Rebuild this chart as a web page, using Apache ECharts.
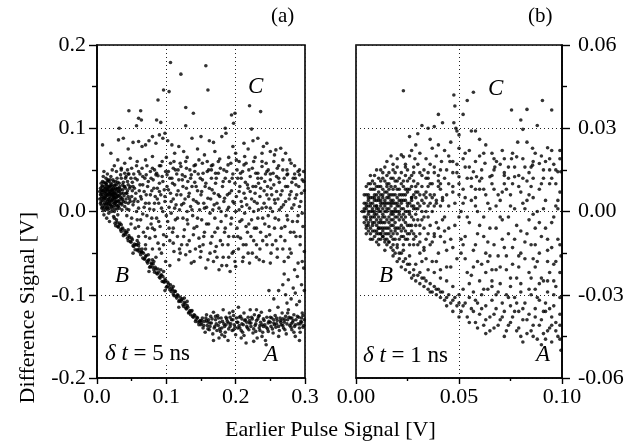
<!DOCTYPE html>
<html><head><meta charset="utf-8">
<script src="https://cdn.jsdelivr.net/npm/echarts@6/dist/echarts.min.js"></script>
<style>html,body{margin:0;padding:0;background:#fff}#c{width:638px;height:445px}</style>
</head><body><div id="c"></div>
<script>
// ---------- axis tick labels ----------
var leftXTicks = ['0.0','0.1','0.2','0.3'];
var leftYTicks = ['-0.2','-0.1','0.0','0.1','0.2'];
var rightXTicks = ['0.00','0.05','0.10'];
var rightYTicks = ['-0.06','-0.03','0.00','0.03','0.06'];

// ---------- panel (a): dt = 5 ns ----------
var aOutliers = [[0.106,0.179],[0.157,0.175],[0.121,0.165],[0.096,0.146],[0.104,0.144],[0.160,0.146],[0.088,0.134],[0.128,0.125],[0.139,0.118],[0.220,0.127],[0.236,0.120],[0.046,0.121],[0.063,0.121],[0.060,0.112],[0.064,0.110],[0.057,0.103],[0.086,0.110],[0.092,0.107],[0.199,0.118],[0.194,0.116],[0.197,0.106],[0.128,0.103],[0.032,0.100],[0.185,0.100],[0.223,0.099]];
var aUpper = [[0.008,0.080],[0.038,0.088],[0.031,0.086],[0.045,0.075],[0.052,0.083],[0.060,0.084],[0.065,0.078],[0.070,0.080],[0.075,0.085],[0.080,0.090],[0.085,0.082],[0.090,0.092],[0.095,0.088],[0.098,0.094],[0.102,0.085],[0.108,0.080],[0.112,0.070],[0.118,0.078],[0.125,0.072],[0.130,0.065],[0.137,0.088],[0.150,0.090],[0.155,0.068],[0.162,0.085],[0.168,0.083],[0.175,0.060],[0.180,0.090],[0.186,0.094],[0.196,0.078],[0.200,0.070],[0.205,0.060],[0.212,0.082],[0.218,0.075],[0.225,0.085],[0.232,0.088],[0.240,0.078],[0.245,0.082],[0.250,0.072],[0.258,0.074],[0.265,0.076],[0.272,0.070],[0.278,0.062],[0.285,0.055],[0.292,0.050],[0.298,0.048],[0.228,0.065],[0.238,0.060],[0.255,0.060],[0.215,0.058],[0.190,0.065],[0.145,0.075],[0.120,0.058],[0.100,0.065],[0.080,0.066],[0.070,0.062],[0.058,0.060],[0.048,0.064],[0.040,0.058],[0.030,0.062],[0.025,0.055],[0.020,0.070],[0.035,0.050],[0.090,0.055],[0.110,0.052],[0.140,0.055],[0.165,0.050],[0.170,0.072],[0.260,0.052],[0.275,0.045],[0.245,0.048]];
var aUpper2 = [[0.045,0.045],[0.050,0.052],[0.055,0.040],[0.060,0.048],[0.066,0.042],[0.072,0.055],[0.078,0.040],[0.083,0.050],[0.088,0.043],[0.094,0.060],[0.099,0.048],[0.105,0.040],[0.111,0.060],[0.117,0.050],[0.123,0.044],[0.129,0.052],[0.135,0.040],[0.141,0.048],[0.147,0.062],[0.153,0.046],[0.159,0.060],[0.165,0.055],[0.171,0.046],[0.177,0.063],[0.183,0.050],[0.189,0.056],[0.195,0.040],[0.201,0.062],[0.207,0.046],[0.213,0.066],[0.219,0.050],[0.226,0.060],[0.232,0.040],[0.238,0.070],[0.244,0.058],[0.250,0.045],[0.256,0.068],[0.262,0.055],[0.268,0.062],[0.274,0.050],[0.280,0.058],[0.286,0.040],[0.292,0.044]];
var aCluster = [[0.005,0.020],[0.006,0.012],[0.007,0.030],[0.008,0.005],[0.008,0.025],[0.009,0.015],[0.010,0.035],[0.010,0.008],[0.011,0.022],[0.012,0.028],[0.012,0.002],[0.013,0.016],[0.013,0.040],[0.014,0.010],[0.014,0.032],[0.015,0.020],[0.015,0.005],[0.016,0.026],[0.016,0.014],[0.017,0.036],[0.017,-0.002],[0.018,0.018],[0.018,0.030],[0.019,0.008],[0.019,0.024],[0.020,0.012],[0.020,0.042],[0.021,0.020],[0.021,0.000],[0.022,0.030],[0.022,0.015],[0.023,0.006],[0.023,0.026],[0.024,0.036],[0.024,0.018],[0.025,0.010],[0.025,0.022],[0.026,0.003],[0.026,0.032],[0.027,0.016],[0.028,0.024],[0.028,0.008],[0.029,0.040],[0.030,0.018],[0.030,0.028],[0.031,0.012],[0.032,0.004],[0.032,0.034],[0.033,0.020],[0.034,0.026],[0.035,0.010],[0.036,0.016],[0.037,0.032],[0.038,0.022],[0.040,0.006],[0.041,0.028],[0.042,0.015],[0.044,0.036],[0.006,0.026],[0.007,0.018],[0.009,0.042],[0.011,0.010],[0.012,0.034],[0.013,0.024],[0.014,0.004],[0.015,0.030],[0.016,0.008],[0.017,0.022],[0.018,0.012],[0.019,0.038],[0.020,0.027],[0.021,0.006],[0.022,0.020],[0.023,0.014],[0.024,0.028],[0.025,0.000],[0.026,0.020],[0.027,0.036],[0.028,0.012],[0.029,0.020],[0.030,0.006],[0.031,0.024],[0.033,0.014],[0.034,0.044],[0.036,0.002],[0.038,0.012],[0.039,0.030],[0.043,0.022],[0.045,0.010],[0.046,0.045],[0.048,0.030],[0.050,0.018],[0.010,0.048],[0.015,0.045],[0.022,0.050],[0.028,0.048],[0.035,0.052],[0.040,0.046],[0.006,0.008],[0.010,-0.004],[0.014,-0.008],[0.018,-0.012],[0.024,-0.006],[0.030,-0.004],[0.008,0.036],[0.012,0.018],[0.016,0.038],[0.020,0.034],[0.026,0.012],[0.032,0.028]];
var aCluster2 = [[0.005,0.010],[0.005,0.028],[0.006,0.016],[0.006,0.034],[0.007,0.004],[0.007,0.023],[0.008,0.013],[0.008,0.031],[0.009,0.020],[0.009,0.001],[0.010,0.027],[0.010,0.017],[0.011,0.030],[0.011,0.005],[0.012,0.013],[0.012,0.024],[0.013,0.008],[0.013,0.034],[0.014,0.019],[0.014,0.027],[0.015,0.012],[0.015,0.037],[0.016,0.002],[0.016,0.021],[0.017,0.029],[0.017,0.010],[0.018,0.024],[0.018,0.004],[0.019,0.016],[0.019,0.031],[0.020,0.008],[0.020,0.022],[0.021,0.013],[0.021,0.032],[0.022,0.025],[0.022,0.003],[0.023,0.018],[0.023,0.038],[0.024,0.010],[0.024,0.023],[0.025,0.031],[0.025,0.015],[0.026,0.026],[0.026,0.007],[0.027,0.021],[0.027,0.011],[0.028,0.032],[0.028,0.017],[0.029,0.003],[0.029,0.027],[0.030,0.013],[0.030,0.035],[0.031,0.019],[0.031,0.007],[0.032,0.024],[0.033,0.010],[0.033,0.030],[0.034,0.017],[0.035,0.022],[0.035,0.040],[0.036,0.008],[0.037,0.026],[0.037,0.014],[0.038,0.035],[0.039,0.019],[0.040,0.030],[0.041,0.011],[0.042,0.042],[0.043,0.003],[0.044,0.025],[0.045,0.032],[0.047,0.015],[0.049,0.040],[0.051,0.025],[0.053,0.012],[0.009,0.025],[0.011,0.016],[0.013,0.021],[0.015,0.026],[0.017,0.015],[0.019,0.020],[0.021,0.026],[0.023,0.022],[0.025,0.017],[0.027,0.028],[0.006,0.021],[0.004,0.015],[0.004,0.024]];
var aMiddle = [[0.041,0.040],[0.043,-0.005],[0.045,0.018],[0.047,0.028],[0.049,-0.015],[0.051,0.035],[0.052,0.008],[0.053,0.045],[0.055,-0.020],[0.056,0.022],[0.057,0.000],[0.058,0.038],[0.059,0.012],[0.060,-0.030],[0.054,0.028],[0.046,0.002],
[0.061,0.025],[0.062,0.045],[0.063,-0.010],[0.064,0.015],[0.066,0.032],[0.067,-0.025],[0.068,0.005],[0.069,0.040],[0.070,-0.040],[0.071,0.020],[0.072,-0.005],[0.073,0.030],[0.075,0.010],[0.076,-0.032],[0.077,0.048],[0.078,-0.015],[0.079,0.025],[0.065,-0.045],[0.074,-0.052],
[0.081,0.038],[0.082,0.002],[0.083,-0.022],[0.084,0.018],[0.085,0.044],[0.086,-0.008],[0.087,0.028],[0.088,-0.038],[0.089,0.010],[0.090,0.034],[0.091,-0.018],[0.092,0.020],[0.093,-0.050],[0.094,0.042],[0.095,0.000],[0.096,-0.028],[0.097,0.026],[0.098,0.012],[0.099,-0.060],[0.085,-0.055],[0.080,-0.045],
[0.101,0.030],[0.102,-0.012],[0.103,0.048],[0.104,0.005],[0.105,-0.035],[0.106,0.022],[0.107,-0.002],[0.108,0.040],[0.109,-0.025],[0.110,0.015],[0.111,-0.048],[0.112,0.032],[0.113,-0.010],[0.114,0.008],[0.115,0.045],[0.116,-0.030],[0.117,0.025],[0.118,-0.058],[0.119,0.002],[0.105,-0.065],
[0.121,0.020],[0.122,-0.040],[0.123,0.038],[0.124,-0.008],[0.125,0.010],[0.126,-0.022],[0.127,0.042],[0.128,-0.052],[0.129,0.028],[0.130,0.000],[0.131,-0.015],[0.132,0.018],[0.133,-0.035],[0.134,0.050],[0.135,0.006],[0.136,-0.062],[0.137,0.030],[0.138,-0.005],[0.139,-0.028],
[0.141,0.035],[0.142,-0.045],[0.143,0.012],[0.144,-0.018],[0.145,0.025],[0.146,0.045],[0.147,-0.032],[0.148,0.002],[0.149,-0.055],[0.150,0.020],[0.151,-0.010],[0.152,0.038],[0.153,-0.040],[0.154,0.010],[0.155,-0.025],[0.156,0.030],[0.157,-0.068],[0.158,0.005],[0.159,0.048],
[0.161,-0.015],[0.162,0.028],[0.163,-0.050],[0.164,0.015],[0.165,0.040],[0.166,-0.030],[0.167,0.002],[0.168,-0.060],[0.169,0.022],[0.170,-0.008],[0.171,0.034],[0.172,-0.042],[0.173,0.010],[0.174,-0.020],[0.175,0.046],[0.176,-0.070],[0.177,0.018],[0.178,-0.035],[0.179,0.000],
[0.181,0.030],[0.182,-0.055],[0.183,0.012],[0.184,-0.025],[0.185,0.040],[0.186,-0.005],[0.187,-0.065],[0.188,0.020],[0.189,-0.040],[0.190,0.005],[0.191,0.036],[0.192,-0.072],[0.193,-0.015],[0.194,0.025],[0.195,-0.050],[0.196,0.045],[0.197,-0.030],[0.198,0.010],[0.199,-0.060],
[0.201,0.018],[0.202,-0.020],[0.203,0.040],[0.204,-0.045],[0.205,0.002],[0.206,0.030],[0.207,-0.032],[0.208,0.012],[0.209,-0.010],[0.210,0.048],[0.211,-0.055],[0.212,0.022],[0.213,-0.002],[0.214,0.035],[0.215,-0.040],[0.216,0.008],[0.217,-0.025],[0.218,0.028],[0.219,-0.015],
[0.221,0.042],[0.222,-0.030],[0.223,0.015],[0.224,-0.050],[0.225,0.030],[0.226,0.000],[0.227,-0.020],[0.228,0.022],[0.229,0.046],[0.230,-0.040],[0.231,0.010],[0.232,-0.008],[0.233,0.034],[0.234,-0.058],[0.235,0.018],[0.236,-0.025],[0.237,0.040],[0.238,0.004],[0.239,-0.035],
[0.241,0.025],[0.242,-0.015],[0.243,0.045],[0.244,0.005],[0.245,-0.040],[0.246,0.030],[0.247,-0.005],[0.248,0.015],[0.249,-0.028],[0.250,0.038],[0.251,-0.050],[0.252,0.020],[0.253,0.000],[0.255,0.032],[0.256,-0.020],[0.257,0.010],[0.258,-0.035],[0.259,0.042],
[0.261,0.015],[0.262,-0.010],[0.263,0.035],[0.265,-0.030],[0.266,0.005],[0.267,0.025],[0.268,-0.045],[0.270,0.040],[0.271,-0.018],[0.272,0.012],[0.274,-0.005],[0.275,0.030],[0.276,-0.055],[0.278,0.020],[0.279,-0.025],
[0.281,0.035],[0.282,-0.012],[0.284,0.008],[0.285,0.045],[0.287,-0.030],[0.288,0.020],[0.290,-0.005],[0.291,0.030],[0.293,-0.040],[0.294,0.012],[0.296,0.038],[0.297,-0.018],[0.299,0.025]];
var aMiddle2 = [[0.042,0.022],[0.044,0.050],[0.048,0.012],[0.050,-0.008],[0.052,0.030],[0.055,0.015],[0.057,0.055],[0.058,-0.010],[0.060,0.004],[0.062,0.032],[0.063,0.018],[0.065,0.052],[0.066,-0.003],[0.068,0.024],[0.070,0.010],[0.071,0.044],[0.073,-0.020],[0.074,0.036],[0.076,0.003],[0.077,0.020],[0.079,-0.008],[0.080,0.052],[0.082,0.028],[0.083,0.010],[0.084,-0.030],[0.086,0.046],[0.087,0.015],[0.089,-0.012],[0.090,0.024],[0.092,0.055],[0.093,0.004],[0.095,0.036],[0.096,-0.040],[0.098,0.018],[0.100,-0.005],[0.101,0.044],[0.103,0.026],[0.104,-0.020],[0.106,0.058],[0.107,0.012],[0.109,0.034],[0.110,-0.038],[0.112,0.004],[0.113,0.050],[0.115,0.020],[0.116,-0.008],[0.118,0.038],[0.119,-0.045],[0.121,0.054],[0.122,0.008],[0.124,0.030],[0.125,-0.030],[0.127,0.015],[0.128,0.060],[0.130,-0.010],[0.131,0.036],[0.133,0.022],[0.134,-0.048],[0.136,0.044],[0.137,0.002],[0.139,0.014],[0.140,-0.020],[0.142,0.056],[0.143,0.030],[0.145,-0.008],[0.146,0.010],[0.148,-0.042],[0.149,0.040],[0.151,0.024],[0.152,0.058],[0.154,-0.030],[0.155,0.004],[0.157,0.034],[0.158,-0.015],[0.160,0.016],[0.161,0.050],[0.163,-0.002],[0.164,-0.038],[0.166,0.026],[0.167,0.056],[0.169,0.008],[0.170,-0.025],[0.172,0.040],[0.173,-0.055],[0.175,0.020],[0.176,0.004],[0.178,0.052],[0.179,-0.012],[0.181,-0.040],[0.182,0.036],[0.184,0.016],[0.185,-0.020],[0.187,0.048],[0.188,0.002],[0.190,-0.030],[0.191,0.022],[0.193,0.058],[0.194,-0.008],[0.196,0.012],[0.197,-0.048],[0.199,0.034],[0.200,0.000],[0.202,0.050],[0.203,-0.030],[0.205,0.024],[0.206,-0.012],[0.208,0.040],[0.209,0.006],[0.211,-0.040],[0.212,0.056],[0.214,0.016],[0.215,-0.018],[0.217,0.032],[0.218,-0.050],[0.220,0.004],[0.221,0.024],[0.223,-0.010],[0.224,0.052],[0.226,-0.035],[0.227,0.012],[0.229,0.030],[0.230,-0.020],[0.232,0.046],[0.233,0.002],[0.235,-0.045],[0.236,0.028],[0.238,0.054],[0.239,-0.008],[0.241,0.010],[0.242,0.036],[0.244,-0.030],[0.245,0.020],[0.247,0.050],[0.248,-0.018],[0.250,0.004],[0.251,0.028],[0.253,-0.040],[0.254,0.046],[0.256,0.014],[0.257,-0.008],[0.259,0.024],[0.260,-0.055],[0.262,0.040],[0.263,0.002],[0.265,0.020],[0.266,-0.020],[0.268,0.050],[0.269,0.008],[0.271,-0.035],[0.272,0.030],[0.274,0.044],[0.275,-0.010],[0.277,0.015],[0.278,-0.045],[0.280,0.024],[0.281,0.004],[0.283,0.040],[0.284,-0.025],[0.286,0.016],[0.287,0.032],[0.289,-0.012],[0.290,0.048],[0.292,0.006],[0.293,-0.030],[0.295,0.022],[0.296,-0.002],[0.298,0.036],[0.299,-0.048]];
var aLowerCloud = [[0.060,-0.018],[0.070,-0.030],[0.080,-0.020],[0.090,-0.045],[0.100,-0.030],[0.110,-0.020],[0.120,-0.050],[0.130,-0.040],[0.140,-0.060],[0.150,-0.048],[0.160,-0.058],[0.170,-0.048],[0.180,-0.065],[0.190,-0.055],[0.200,-0.066],[0.210,-0.060],[0.220,-0.062],[0.230,-0.055],[0.240,-0.060],[0.250,-0.062],[0.260,-0.045],[0.270,-0.060],[0.280,-0.050],[0.290,-0.062]];
var aBandB = [[0.025,-0.008],[0.027,-0.017],[0.029,-0.013],[0.031,-0.019],[0.033,-0.014],[0.035,-0.024],[0.036,-0.021],[0.038,-0.029],[0.040,-0.023],[0.041,-0.028],[0.043,-0.025],[0.045,-0.035],[0.047,-0.031],[0.048,-0.036],[0.050,-0.032],[0.052,-0.041],[0.054,-0.039],[0.055,-0.046],[0.057,-0.040],[0.059,-0.047],[0.060,-0.041],[0.062,-0.049],[0.064,-0.048],[0.066,-0.056],[0.067,-0.050],[0.069,-0.057],[0.071,-0.053],[0.073,-0.062],[0.074,-0.059],[0.076,-0.067],[0.078,-0.062],[0.080,-0.067],[0.081,-0.063],[0.083,-0.073],[0.085,-0.069],[0.087,-0.075],[0.088,-0.069],[0.090,-0.079],[0.092,-0.077],[0.094,-0.084],[0.095,-0.078],[0.097,-0.085],[0.099,-0.083],[0.100,-0.091],[0.102,-0.085],[0.104,-0.091],[0.106,-0.088],[0.107,-0.096],[0.109,-0.094],[0.111,-0.101],[0.113,-0.096],[0.114,-0.102],[0.116,-0.100],[0.118,-0.108],[0.120,-0.103],[0.121,-0.108],[0.123,-0.105],[0.125,-0.114],[0.127,-0.111],[0.128,-0.116],[0.130,-0.113],[0.132,-0.122],[0.134,-0.119],[0.135,-0.124],[0.137,-0.119],[0.139,-0.127],[0.141,-0.125],[0.142,-0.132],[0.144,-0.127],[0.146,-0.133],[0.148,-0.132],[0.045,-0.022],[0.058,-0.035],[0.070,-0.045],[0.082,-0.060],[0.096,-0.072],[0.110,-0.090],[0.126,-0.104],[0.052,-0.050],[0.075,-0.072],[0.098,-0.095],[0.118,-0.115]];
var aBandB2 = [[0.026,-0.014],[0.028,-0.010],[0.030,-0.018],[0.032,-0.016],[0.034,-0.022],[0.037,-0.020],[0.039,-0.027],[0.042,-0.025],[0.044,-0.032],[0.046,-0.029],[0.049,-0.037],[0.051,-0.034],[0.053,-0.042],[0.056,-0.040],[0.058,-0.046],[0.061,-0.045],[0.063,-0.052],[0.065,-0.049],[0.068,-0.057],[0.070,-0.054],[0.072,-0.060],[0.075,-0.058],[0.077,-0.066],[0.079,-0.063],[0.082,-0.070],[0.084,-0.067],[0.086,-0.074],[0.089,-0.073],[0.091,-0.080],[0.093,-0.076],[0.096,-0.084],[0.098,-0.081],[0.101,-0.090],[0.103,-0.087],[0.105,-0.094],[0.108,-0.092],[0.110,-0.099],[0.112,-0.096],[0.115,-0.104],[0.117,-0.101],[0.119,-0.107],[0.122,-0.106],[0.124,-0.112],[0.126,-0.109],[0.129,-0.117],[0.131,-0.115],[0.133,-0.121],[0.136,-0.120],[0.138,-0.126],[0.140,-0.124],[0.143,-0.130],[0.145,-0.128],[0.147,-0.136],[0.149,-0.131],[0.151,-0.134],[0.035,-0.016],[0.060,-0.038],[0.080,-0.058],[0.092,-0.070],[0.130,-0.108]];
var aRegionA = [[0.150,-0.136],[0.152,-0.128],[0.153,-0.140],[0.155,-0.132],[0.156,-0.145],[0.158,-0.124],[0.159,-0.137],[0.161,-0.130],[0.162,-0.142],[0.164,-0.126],[0.165,-0.134],[0.167,-0.147],[0.168,-0.121],[0.170,-0.138],[0.171,-0.130],[0.173,-0.143],[0.174,-0.125],[0.176,-0.152],[0.177,-0.133],[0.179,-0.128],[0.180,-0.140],[0.182,-0.118],[0.183,-0.135],[0.185,-0.145],[0.186,-0.127],[0.188,-0.132],[0.189,-0.155],[0.191,-0.122],[0.192,-0.138],[0.194,-0.130],[0.195,-0.143],[0.197,-0.125],[0.198,-0.136],[0.200,-0.148],[0.201,-0.128],[0.203,-0.133],[0.204,-0.115],[0.206,-0.140],[0.207,-0.126],[0.209,-0.135],[0.210,-0.145],[0.212,-0.122],[0.213,-0.131],[0.215,-0.158],[0.216,-0.138],[0.218,-0.127],[0.219,-0.142],[0.221,-0.118],[0.222,-0.134],[0.224,-0.129],[0.225,-0.146],[0.227,-0.124],[0.228,-0.137],[0.230,-0.131],[0.231,-0.152],[0.233,-0.126],[0.234,-0.140],[0.236,-0.133],[0.237,-0.121],[0.239,-0.145],[0.240,-0.129],[0.242,-0.136],[0.243,-0.155],[0.245,-0.127],[0.246,-0.141],[0.248,-0.132],[0.249,-0.119],[0.251,-0.138],[0.252,-0.128],[0.254,-0.146],[0.255,-0.134],[0.257,-0.125],[0.258,-0.139],[0.260,-0.131],[0.261,-0.115],[0.263,-0.143],[0.264,-0.128],[0.266,-0.136],[0.267,-0.122],[0.269,-0.140],[0.270,-0.133],[0.272,-0.126],[0.273,-0.147],[0.275,-0.130],[0.276,-0.118],[0.278,-0.137],[0.279,-0.128],[0.281,-0.142],[0.282,-0.133],[0.284,-0.124],[0.285,-0.138],[0.287,-0.130],[0.288,-0.112],[0.290,-0.135],[0.291,-0.127],[0.293,-0.145],[0.294,-0.132],[0.296,-0.122],[0.297,-0.139],[0.299,-0.130],[0.160,-0.133],[0.175,-0.137],[0.190,-0.134],[0.205,-0.137],[0.220,-0.131],[0.235,-0.137],[0.250,-0.133],[0.265,-0.131],[0.280,-0.135],[0.295,-0.128],[0.184,-0.150],[0.226,-0.156],[0.244,-0.160],[0.208,-0.152],[0.292,-0.155],[0.168,-0.155]];
var aRegionA2 = [[0.151,-0.131],[0.154,-0.137],[0.157,-0.128],[0.160,-0.141],[0.163,-0.134],[0.166,-0.129],[0.169,-0.140],[0.172,-0.135],[0.175,-0.128],[0.178,-0.144],[0.181,-0.132],[0.184,-0.138],[0.187,-0.129],[0.190,-0.141],[0.193,-0.135],[0.196,-0.130],[0.199,-0.139],[0.202,-0.133],[0.205,-0.127],[0.208,-0.143],[0.211,-0.136],[0.214,-0.130],[0.217,-0.140],[0.220,-0.134],[0.223,-0.127],[0.226,-0.141],[0.229,-0.135],[0.232,-0.129],[0.235,-0.143],[0.238,-0.136],[0.241,-0.131],[0.244,-0.139],[0.247,-0.134],[0.250,-0.127],[0.253,-0.141],[0.256,-0.136],[0.259,-0.128],[0.262,-0.138],[0.265,-0.133],[0.268,-0.129],[0.271,-0.142],[0.274,-0.135],[0.277,-0.127],[0.280,-0.139],[0.283,-0.131],[0.286,-0.136],[0.289,-0.126],[0.292,-0.140],[0.295,-0.133],[0.298,-0.137],[0.158,-0.131],[0.171,-0.126],[0.186,-0.136],[0.197,-0.142],[0.209,-0.129],[0.222,-0.138],[0.234,-0.125],[0.247,-0.144],[0.259,-0.135],[0.271,-0.130],[0.284,-0.145],[0.297,-0.125],[0.163,-0.138],[0.177,-0.141],[0.192,-0.127],[0.203,-0.140],[0.216,-0.133],[0.229,-0.144],[0.240,-0.138],[0.255,-0.130],[0.268,-0.137],[0.281,-0.128],[0.293,-0.135],[0.180,-0.148],[0.212,-0.149],[0.238,-0.150],[0.262,-0.150],[0.286,-0.150],[0.196,-0.120],[0.230,-0.118],[0.275,-0.122]];
var aTail = [[0.262,-0.095],[0.268,-0.088],[0.272,-0.100],[0.276,-0.082],[0.280,-0.105],[0.283,-0.092],[0.286,-0.098],[0.289,-0.078],[0.292,-0.108],[0.295,-0.088],[0.298,-0.068],[0.299,-0.095],[0.274,-0.110],[0.285,-0.070],[0.270,-0.075],[0.255,-0.105],[0.248,-0.095],[0.296,-0.060]];

// ---------- panel (b): dt = 1 ns ----------
var bCluster = [[0.003,0.000],[0.004,0.003],[0.004,-0.002],[0.005,0.006],[0.005,-0.005],[0.005,0.001],[0.006,-0.001],[0.006,0.004],[0.006,-0.007],[0.007,0.002],[0.007,-0.003],[0.007,0.008],[0.008,0.000],[0.008,0.005],[0.008,-0.005],[0.009,0.002],[0.009,-0.002],[0.009,0.010],[0.010,-0.008],[0.010,0.004],[0.010,-0.001],[0.011,0.007],[0.011,0.001],[0.011,-0.004],[0.012,-0.010],[0.012,0.003],[0.012,0.009],[0.013,-0.002],[0.013,0.005],[0.013,-0.006],[0.014,0.000],[0.014,0.011],[0.014,-0.008],[0.015,0.003],[0.015,-0.003],[0.015,0.007],[0.016,-0.011],[0.016,0.001],[0.016,0.005],[0.017,-0.005],[0.017,0.009],[0.017,-0.001],[0.018,0.003],[0.018,-0.008],[0.018,0.012],[0.019,0.000],[0.019,-0.004],[0.019,0.006],[0.020,-0.012],[0.020,0.002],[0.020,0.008],[0.021,-0.006],[0.021,0.004],[0.022,-0.002],[0.022,0.010],[0.022,-0.009],[0.023,0.001],[0.023,0.006],[0.024,-0.004],[0.024,0.013],[0.025,-0.010],[0.025,0.003],[0.026,0.008],[0.026,-0.001],[0.027,-0.007],[0.027,0.005],[0.028,0.011],[0.028,-0.003],[0.029,0.001],[0.030,-0.012],[0.030,0.007],[0.004,0.006],[0.005,-0.003],[0.006,0.002],[0.007,-0.006],[0.007,0.005],[0.008,-0.002],[0.008,0.008],[0.009,-0.007],[0.009,0.004],[0.010,0.001],[0.010,0.009],[0.011,-0.006],[0.011,0.004],[0.012,-0.003],[0.012,0.006],[0.013,0.001],[0.013,0.012],[0.014,-0.004],[0.014,0.004],[0.015,-0.008],[0.015,0.010],[0.016,-0.002],[0.016,0.008],[0.017,0.002],[0.017,-0.009],[0.018,0.000],[0.018,0.006],[0.019,-0.007],[0.019,0.011],[0.020,-0.002],[0.020,0.005],[0.021,0.000],[0.021,-0.010],[0.022,0.004],[0.023,-0.006],[0.023,0.009],[0.024,0.000],[0.025,0.007],[0.026,-0.005],[0.026,0.012],[0.027,0.002],[0.028,-0.008],[0.029,0.005],[0.029,-0.005],[0.030,0.010],[0.031,0.002],[0.031,-0.008],[0.032,0.013],[0.032,-0.003],[0.033,0.006],[0.034,-0.010],[0.034,0.000],[0.035,0.009],[0.036,-0.005],[0.036,0.003],[0.006,0.010],[0.009,0.013],[0.012,0.015],[0.016,0.014],[0.020,0.016],[0.025,0.015],[0.008,-0.010],[0.011,-0.012],[0.014,-0.014],[0.018,-0.014],[0.022,-0.015]];
var bCluster2 = [[0.004,0.001],[0.004,-0.004],[0.005,0.003],[0.005,-0.008],[0.006,0.000],[0.006,0.006],[0.006,-0.004],[0.007,0.000],[0.007,0.010],[0.007,-0.008],[0.008,0.003],[0.008,-0.007],[0.008,0.011],[0.009,0.000],[0.009,0.006],[0.009,-0.004],[0.010,0.002],[0.010,0.006],[0.010,-0.005],[0.010,-0.011],[0.011,0.009],[0.011,-0.002],[0.011,0.012],[0.011,-0.008],[0.012,0.000],[0.012,0.004],[0.012,-0.006],[0.012,0.011],[0.013,-0.004],[0.013,0.003],[0.013,0.008],[0.013,-0.009],[0.014,0.002],[0.014,0.007],[0.014,-0.002],[0.014,-0.011],[0.015,0.000],[0.015,0.005],[0.015,-0.006],[0.015,0.013],[0.016,0.003],[0.016,-0.004],[0.016,0.010],[0.016,-0.008],[0.017,0.000],[0.017,0.006],[0.017,-0.003],[0.017,0.012],[0.018,-0.005],[0.018,0.008],[0.018,-0.001],[0.018,-0.010],[0.019,0.003],[0.019,0.009],[0.019,-0.002],[0.020,0.000],[0.020,0.011],[0.020,-0.006],[0.021,0.002],[0.021,0.008],[0.021,-0.003],[0.022,0.006],[0.022,-0.005],[0.022,0.001],[0.023,-0.003],[0.023,0.011],[0.023,-0.009],[0.024,0.004],[0.024,0.008],[0.024,-0.007],[0.025,0.000],[0.025,0.011],[0.025,-0.005],[0.026,0.003],[0.026,-0.008],[0.027,0.009],[0.027,-0.002],[0.027,0.013],[0.028,0.001],[0.028,0.006],[0.029,-0.009],[0.029,0.009],[0.030,0.003],[0.030,-0.003],[0.031,0.006],[0.031,0.014],[0.032,0.000],[0.032,0.009],[0.033,-0.006],[0.033,0.003],[0.034,0.012],[0.034,0.005],[0.035,-0.002],[0.036,0.010],[0.037,0.005],[0.037,-0.011],[0.038,0.014],[0.039,-0.004],[0.040,0.009],[0.041,0.002],[0.009,0.008],[0.011,0.005],[0.013,-0.001],[0.015,0.009],[0.017,0.004],[0.019,-0.006],[0.021,0.012],[0.023,0.004],[0.025,0.008],[0.027,0.005],[0.007,0.013],[0.010,0.015],[0.014,0.016],[0.018,0.015],[0.022,0.014],[0.028,0.014],[0.024,0.016],[0.019,0.014],[0.013,0.014],[0.005,0.009],[0.005,-0.006]];
var bCluster3 = [[0.004,0.000],[0.005,-0.002],[0.005,0.002],[0.006,-0.005],[0.006,0.005],[0.007,-0.002],[0.007,0.003],[0.007,-0.010],[0.008,0.001],[0.008,-0.004],[0.009,0.005],[0.009,-0.001],[0.009,-0.009],[0.010,0.002],[0.010,-0.003],[0.010,-0.007],[0.011,0.000],[0.011,-0.010],[0.012,0.002],[0.012,-0.008],[0.012,-0.004],[0.013,-0.007],[0.013,0.006],[0.014,0.003],[0.014,-0.006],[0.015,0.001],[0.015,-0.010],[0.016,-0.006],[0.016,0.006],[0.017,0.003],[0.017,-0.007],[0.018,0.004],[0.018,-0.003],[0.019,0.001],[0.019,-0.010],[0.020,0.003],[0.020,-0.008],[0.021,0.006],[0.021,-0.001],[0.022,0.003],[0.022,-0.007],[0.023,-0.001],[0.023,-0.012],[0.024,0.006],[0.024,-0.002],[0.025,0.002],[0.025,-0.008],[0.026,0.000],[0.026,-0.012],[0.027,-0.005],[0.027,0.004],[0.028,0.002],[0.028,-0.010],[0.029,0.007],[0.029,-0.001],[0.030,0.001],[0.031,-0.005],[0.031,-0.011],[0.032,0.004],[0.033,-0.002],[0.033,-0.013],[0.034,0.007],[0.035,0.002],[0.035,-0.008],[0.036,0.006],[0.037,0.000],[0.038,-0.009],[0.039,0.003],[0.040,-0.006],[0.041,0.010],[0.042,0.005],[0.043,-0.002]];
var bUpper = [[0.023,0.0435],[0.0475,0.042],[0.054,0.040],[0.057,0.043],[0.040,0.035],[0.042,0.032],[0.032,0.031],[0.035,0.030],[0.038,0.0306],[0.0475,0.032],[0.0485,0.030],[0.049,0.029],[0.050,0.0276],[0.056,0.029],[0.058,0.029],[0.0755,0.0366],[0.083,0.0368],[0.080,0.033],[0.0905,0.040],[0.095,0.0366],[0.081,0.0296],[0.0785,0.025],[0.083,0.025],[0.0857,0.0228],[0.099,0.022],[0.099,0.019],[0.036,0.026],[0.040,0.024],[0.037,0.0228],[0.029,0.024],[0.022,0.0204],[0.023,0.0197],[0.027,0.022],[0.0286,0.019],[0.050,0.0228],[0.050,0.0125],[0.0857,0.0167],[0.089,0.0173],[0.094,0.019],[0.098,0.0143],[0.0995,0.0143],[0.0626,0.0174],[0.0674,0.016],[0.0682,0.018],[0.065,0.0125],[0.0755,0.019],[0.078,0.0197],[0.077,0.0125],[0.072,0.013],[0.053,0.016],[0.057,0.0143],[0.0585,0.0125],[0.0415,0.018],[0.0456,0.018],[0.044,0.015],[0.018,0.017],[0.020,0.019],[0.024,0.017],[0.026,0.020],[0.030,0.017],[0.031,0.021],[0.033,0.015],[0.034,0.019],[0.038,0.016],[0.039,0.020],[0.043,0.022],[0.046,0.025],[0.047,0.014],[0.052,0.019],[0.055,0.022],[0.060,0.020],[0.061,0.015],[0.063,0.024],[0.066,0.021],[0.070,0.017],[0.071,0.022],[0.074,0.016],[0.081,0.019],[0.084,0.014],[0.087,0.021],[0.091,0.015],[0.093,0.023],[0.096,0.017],[0.028,0.016],[0.035,0.014],[0.017,0.020],[0.026,0.027],[0.015,0.018],[0.030,0.028],[0.052,0.035],[0.048,0.038],[0.060,0.026],[0.088,0.031]];
var bUpper2 = [[0.036,0.017],[0.041,0.015],[0.045,0.020],[0.049,0.017],[0.053,0.021],[0.058,0.018],[0.062,0.021],[0.067,0.019],[0.072,0.019],[0.076,0.021],[0.082,0.016],[0.086,0.018],[0.090,0.020],[0.095,0.022],[0.040,0.011],[0.047,0.009],[0.054,0.012],[0.060,0.008],[0.066,0.013],[0.073,0.008],[0.079,0.013],[0.085,0.009],[0.091,0.012],[0.097,0.015]];
var bMiddle = [[0.037,0.010],[0.038,-0.008],[0.039,0.004],[0.040,-0.015],[0.041,0.008],[0.042,-0.003],[0.043,0.012],[0.044,-0.020],[0.045,0.002],[0.046,-0.010],[0.047,0.007],[0.048,-0.005],[0.049,-0.017],[0.050,0.010],[0.051,0.000],[0.052,-0.012],[0.053,0.005],[0.054,-0.022],[0.055,-0.004],[0.056,0.009],[0.057,-0.014],[0.058,0.002],[0.059,-0.008],[0.060,0.011],[0.061,-0.019],[0.062,-0.002],[0.063,0.006],[0.064,-0.011],[0.065,0.001],[0.066,-0.025],[0.067,0.008],[0.068,-0.006],[0.069,-0.016],[0.070,0.004],[0.071,-0.010],[0.072,0.010],[0.073,-0.021],[0.074,-0.002],[0.075,0.006],[0.076,-0.013],[0.077,0.001],[0.078,-0.024],[0.079,0.009],[0.080,-0.007],[0.081,0.003],[0.082,-0.017],[0.083,0.011],[0.084,-0.003],[0.085,-0.012],[0.086,0.005],[0.087,-0.020],[0.088,0.000],[0.089,0.008],[0.090,-0.009],[0.091,-0.025],[0.092,0.004],[0.093,-0.014],[0.094,0.010],[0.095,-0.004],[0.096,-0.019],[0.097,0.002],[0.098,-0.010],[0.099,0.007],[0.0995,-0.016],[0.033,-0.014],[0.035,0.012],[0.038,0.002],[0.041,-0.009],[0.044,0.006],[0.047,-0.013],[0.050,-0.002],[0.053,-0.009],[0.056,0.004],[0.059,-0.018],[0.062,0.008],[0.065,-0.006],[0.068,0.002],[0.071,-0.003],[0.074,0.012],[0.077,-0.010],[0.080,0.007],[0.083,-0.008],[0.086,-0.001],[0.089,-0.015],[0.092,-0.006],[0.095,0.012],[0.098,0.001],[0.045,-0.006],[0.058,0.008],[0.063,-0.015],[0.070,-0.020],[0.082,0.001],[0.094,-0.022],[0.052,0.003]];
var bMiddle2 = [[0.036,-0.012],[0.038,0.006],[0.039,-0.018],[0.040,0.013],[0.042,0.004],[0.043,-0.007],[0.045,0.010],[0.046,-0.020],[0.048,0.003],[0.049,0.014],[0.051,-0.010],[0.052,0.008],[0.054,-0.002],[0.055,0.016],[0.057,-0.020],[0.058,0.005],[0.060,-0.005],[0.061,0.012],[0.063,-0.022],[0.064,0.003],[0.066,0.010],[0.067,-0.012],[0.069,0.006],[0.070,-0.002],[0.072,0.014],[0.073,-0.016],[0.075,0.002],[0.076,0.010],[0.078,-0.005],[0.079,-0.020],[0.081,0.012],[0.082,-0.011],[0.084,0.006],[0.085,0.016],[0.087,-0.006],[0.088,-0.018],[0.090,0.010],[0.091,0.001],[0.093,-0.010],[0.094,0.015],[0.096,-0.002],[0.097,0.010],[0.099,-0.022],[0.044,-0.014],[0.047,0.018],[0.053,-0.017],[0.056,0.012],[0.059,0.000],[0.064,-0.018],[0.067,0.015],[0.071,0.007],[0.074,-0.008],[0.077,0.016],[0.080,-0.015],[0.083,0.004],[0.086,0.012],[0.089,-0.004],[0.092,0.018],[0.095,-0.013],[0.098,0.004],[0.041,-0.021],[0.050,0.006],[0.062,-0.009],[0.068,-0.021],[0.075,-0.024],[0.084,-0.022],[0.097,-0.018],[0.090,-0.024]];
var bMiddle3 = [[0.043,-0.011],[0.051,-0.015],[0.058,-0.012],[0.065,-0.016],[0.072,-0.013],[0.079,-0.016],[0.087,-0.012],[0.093,-0.018],[0.099,-0.012],[0.056,-0.023],[0.066,-0.021],[0.076,-0.019],[0.086,-0.017],[0.096,-0.025]];
var bBandB = [[0.012,-0.008],[0.014,-0.010],[0.015,-0.012],[0.017,-0.013],[0.018,-0.016],[0.019,-0.015],[0.020,-0.018],[0.021,-0.017],[0.022,-0.020],[0.023,-0.018],[0.024,-0.021],[0.025,-0.019],[0.026,-0.022],[0.027,-0.024],[0.028,-0.021],[0.029,-0.025],[0.030,-0.023],[0.031,-0.026],[0.032,-0.024],[0.033,-0.027],[0.034,-0.025],[0.035,-0.028],[0.036,-0.026],[0.037,-0.029],[0.038,-0.027],[0.039,-0.030],[0.040,-0.028],[0.041,-0.031],[0.042,-0.029],[0.043,-0.032],[0.045,-0.030],[0.046,-0.033],[0.048,-0.031],[0.049,-0.034],[0.020,-0.013],[0.023,-0.014],[0.026,-0.016],[0.029,-0.019],[0.032,-0.018],[0.035,-0.021],[0.038,-0.022],[0.041,-0.024],[0.044,-0.025],[0.047,-0.027],[0.024,-0.010],[0.028,-0.012],[0.031,-0.015],[0.034,-0.017],[0.037,-0.018]];
var bBandB2 = [[0.011,-0.006],[0.013,-0.009],[0.016,-0.011],[0.018,-0.012],[0.021,-0.015],[0.024,-0.017],[0.026,-0.019],[0.028,-0.023],[0.031,-0.022],[0.033,-0.024],[0.036,-0.029],[0.039,-0.028],[0.041,-0.029],[0.044,-0.031],[0.047,-0.032],[0.050,-0.033]];
var bRegionA = [[0.050,-0.030],[0.051,-0.036],[0.052,-0.028],[0.053,-0.033],[0.054,-0.038],[0.055,-0.031],[0.056,-0.035],[0.057,-0.029],[0.058,-0.040],[0.059,-0.033],[0.060,-0.037],[0.061,-0.030],[0.062,-0.041],[0.063,-0.034],[0.064,-0.028],[0.065,-0.038],[0.066,-0.032],[0.067,-0.042],[0.068,-0.035],[0.069,-0.029],[0.070,-0.039],[0.071,-0.033],[0.072,-0.036],[0.073,-0.030],[0.074,-0.041],[0.075,-0.034],[0.076,-0.038],[0.077,-0.031],[0.078,-0.043],[0.079,-0.036],[0.080,-0.029],[0.081,-0.039],[0.082,-0.033],[0.083,-0.044],[0.084,-0.037],[0.085,-0.030],[0.086,-0.041],[0.087,-0.035],[0.088,-0.046],[0.089,-0.032],[0.090,-0.039],[0.091,-0.044],[0.092,-0.036],[0.093,-0.029],[0.094,-0.042],[0.095,-0.047],[0.096,-0.034],[0.097,-0.040],[0.098,-0.045],[0.099,-0.037],[0.0995,-0.050],[0.099,-0.031],[0.097,-0.027],[0.093,-0.025],[0.089,-0.026],[0.085,-0.024],[0.080,-0.026],[0.075,-0.027],[0.070,-0.026],[0.066,-0.027],[0.060,-0.025],[0.055,-0.026],[0.063,-0.044],[0.072,-0.045],[0.081,-0.047],[0.090,-0.048],[0.086,-0.045],[0.095,-0.041],[0.092,-0.033],[0.087,-0.028]];
var bRegionA2 = [[0.044,-0.034],[0.047,-0.036],[0.050,-0.038],[0.052,-0.034],[0.055,-0.040],[0.057,-0.036],[0.059,-0.042],[0.061,-0.035],[0.063,-0.039],[0.065,-0.043],[0.067,-0.037],[0.069,-0.041],[0.071,-0.038],[0.073,-0.043],[0.075,-0.040],[0.077,-0.036],[0.079,-0.042],[0.081,-0.035],[0.083,-0.039],[0.085,-0.043],[0.087,-0.038],[0.089,-0.041],[0.091,-0.036],[0.093,-0.043],[0.095,-0.038],[0.097,-0.043],[0.099,-0.041],[0.058,-0.032],[0.068,-0.030],[0.078,-0.033],[0.088,-0.031],[0.096,-0.030],[0.062,-0.028],[0.074,-0.031],[0.084,-0.028],[0.094,-0.035],[0.099,-0.046],[0.092,-0.046],[0.080,-0.045]];

var panelA = [].concat(aOutliers, aUpper, aUpper2, aCluster, aCluster2, aMiddle, aMiddle2, aLowerCloud, aBandB, aBandB2, aRegionA, aRegionA2, aTail);
var panelB = [].concat(bCluster, bCluster2, bCluster3, bUpper, bUpper2, bMiddle, bMiddle2, bMiddle3, bBandB, bBandB2, bRegionA, bRegionA2);

var FONT = "'Liberation Serif', 'Times New Roman', serif";
var txt = {fontFamily: FONT, fontSize: 22, color: '#000'};
var dotted = {show: true, lineStyle: {color: '#222', width: 1, type: [1, 3]}};

function xAx(grid, max, interval, fmtDigits) {
  return {
    gridIndex: grid, type: 'value', min: 0, max: max, interval: interval,
    axisLine: {show: true, onZero: false, lineStyle: {color: '#000', width: 1.6}},
    axisTick: {show: true, inside: false, length: 6, lineStyle: {color: '#000', width: 1.4}},
    minorTick: {show: true, splitNumber: 2, length: 3, lineStyle: {color: '#000', width: 1.4}},
    axisLabel: Object.assign({margin: 8, formatter: function (v) { return v.toFixed(fmtDigits); }}, txt),
    splitLine: dotted
  };
}
function yAx(grid, lim, interval, fmtDigits, pos, margin) {
  return {
    gridIndex: grid, type: 'value', min: -lim, max: lim, interval: interval, position: pos,
    axisLine: {show: true, onZero: false, lineStyle: {color: '#000', width: 1.6}},
    axisTick: {show: true, inside: false, length: 8, lineStyle: {color: '#000', width: 1.4}},
    minorTick: {show: true, splitNumber: 2, length: 5, lineStyle: {color: '#000', width: 1.4}},
    axisLabel: Object.assign({margin: margin, formatter: function (v) { return v.toFixed(fmtDigits); }}, txt),
    splitLine: dotted
  };
}

var chart = echarts.init(document.getElementById('c'), null, {renderer: 'canvas'});
function letter(x, y, t) {
  return {type: 'text', left: x, top: y, z: 100,
    style: {text: t, fontFamily: FONT, fontSize: 23, fontStyle: 'italic', fill: '#000'}};
}
function dtLabel(x, y, t) {
  return {type: 'text', left: x, top: y, z: 100, style: {
    text: '{i|\u03b4 t} = ' + t, fontFamily: FONT, fontSize: 23, fill: '#000',
    backgroundColor: '#fff', padding: [2, 3, 0, 3],
    rich: {i: {fontFamily: FONT, fontSize: 23, fontStyle: 'italic', fill: '#000'}}}};
}
chart.setOption({
  animation: false,
  backgroundColor: '#fff',
  grid: [
    {left: 97, top: 45, width: 208, height: 333, show: true, borderColor: '#000', borderWidth: 1.6, backgroundColor: 'transparent'},
    {left: 356, top: 45, width: 206, height: 333, show: true, borderColor: '#000', borderWidth: 1.6, backgroundColor: 'transparent'}
  ],
  xAxis: [xAx(0, 0.3, 0.1, 1), xAx(1, 0.1, 0.05, 2)],
  yAxis: [yAx(0, 0.2, 0.1, 1, 'left', 11), yAx(1, 0.06, 0.03, 2, 'right', 16)],
  series: [
    {type: 'scatter', xAxisIndex: 0, yAxisIndex: 0, data: panelA, symbol: 'circle', symbolSize: 3.6,
     itemStyle: {color: '#000'}, silent: true, z: 5},
    {type: 'scatter', xAxisIndex: 1, yAxisIndex: 1, data: panelB, symbol: 'circle', symbolSize: 3.6,
     itemStyle: {color: '#000'}, silent: true, z: 5}
  ],
  graphic: [
    {type: 'text', left: 271, top: 6, z: 100, style: {text: '(a)', fontFamily: FONT, fontSize: 21, fill: '#000'}},
    {type: 'text', left: 528, top: 6, z: 100, style: {text: '(b)', fontFamily: FONT, fontSize: 21, fill: '#000'}},
    letter(248, 75, 'C'), letter(115, 264, 'B'), letter(264, 343, 'A'),
    letter(488, 77, 'C'), letter(379, 264, 'B'), letter(536, 343, 'A'),
    dtLabel(102, 340, '5 ns'),
    dtLabel(360, 342, '1 ns'),
    {type: 'text', left: 17, top: 212, z: 100, rotation: Math.PI / 2, originX: 0, originY: 0,
     style: {text: 'Difference Signal [V]', fontFamily: FONT, fontSize: 22, fill: '#000', align: 'center', verticalAlign: 'middle'}},
    {type: 'text', left: 225, top: 419, z: 100,
     style: {text: 'Earlier Pulse Signal [V]', fontFamily: FONT, fontSize: 22, fill: '#000'}}
  ]
});
</script>
</body></html>
